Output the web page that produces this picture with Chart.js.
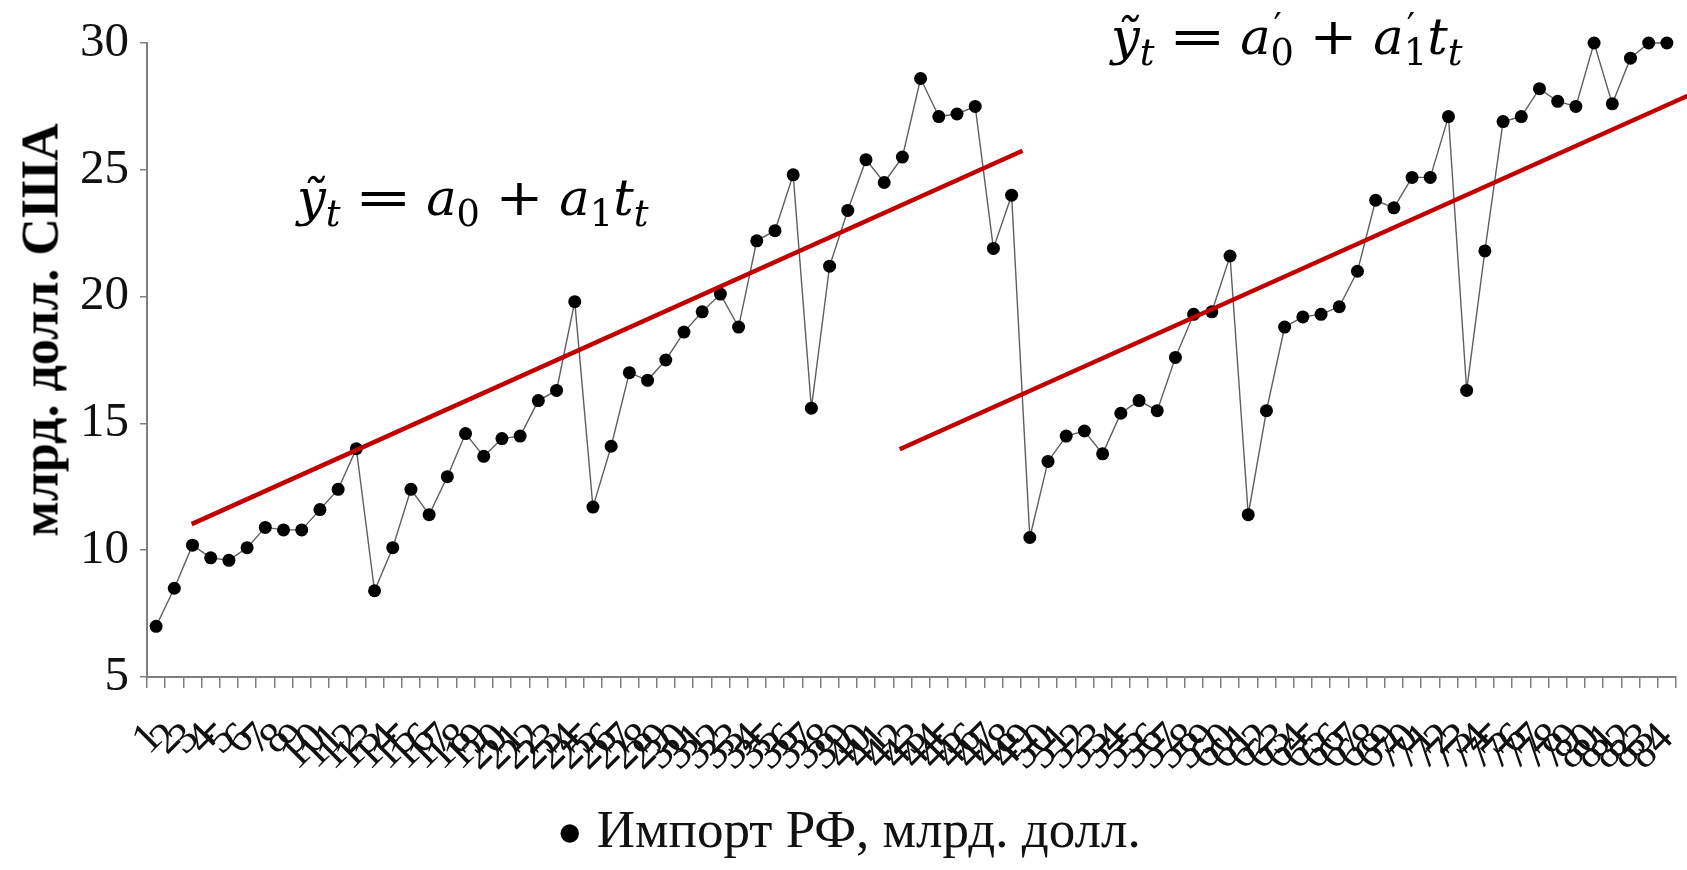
<!DOCTYPE html>
<html lang="ru">
<head>
<meta charset="UTF-8">
<title>Импорт РФ, млрд. долл.</title>
<script src="https://cdn.jsdelivr.net/npm/chart.js"></script>
<style>
  html, body { margin: 0; padding: 0; background: #fff; }
  #wrap { position: relative; width: 1687px; height: 870px; overflow: hidden; }
  #chart { display: block; }
  .eq {
    position: absolute;
    font-family: "DejaVu Serif", serif;
    font-size: 51px;
    line-height: 1;
    color: #000;
    white-space: nowrap;
  }
  .eq i { font-style: italic; }
  .eq sub { font-size: 0.72em; vertical-align: -0.3em; line-height: 0; }
  .eq .op { display: inline-block; margin: 0 0.32em; }
  .eq .eqs { transform: scaleX(1.35); margin: 0 0.42em; }
  .eq .pls { transform: scaleX(1.12); margin: 0 0.36em; }
  .eq .ss {
    position: relative;
    display: inline-block;
    font-size: 0.72em;
    line-height: 1;
    vertical-align: -0.3em;
  }
  .eq .pr { position: absolute; left: 0.08em; top: -0.72em; }
  #ytitle {
    position: absolute;
    left: 40px;
    top: 330px;
    transform: translate(-50%, -50%) rotate(-90deg);
    font: bold 52px "Liberation Serif", serif;
    color: #000;
    white-space: nowrap;
  }
</style>
</head>
<body>
<div id="wrap">
  <canvas id="chart" width="1687" height="870"></canvas>
  <div id="ytitle">млрд. долл. США</div>
  <div class="eq" id="eq1" style="left:297px; top:172px">
    <i>ỹ</i><sub><i>t</i></sub><span class="op eqs">=</span><i>a</i><sub>0</sub><span class="op pls">+</span><i>a</i><sub>1</sub><i>t</i><sub><i>t</i></sub>
  </div>
  <div class="eq" id="eq2" style="left:1111px; top:11px">
    <i>ỹ</i><sub><i>t</i></sub><span class="op eqs">=</span><i>a</i><span class="ss">0<span class="pr">′</span></span><span class="op pls">+</span><i>a</i><span class="ss">1<span class="pr">′</span></span><i>t</i><sub><i>t</i></sub>
  </div>
</div>

<script>
  // periods (months), 1..84
  const periods = [
    1, 2, 3, 4, 5, 6, 7, 8, 9, 10, 11, 12,
    13, 14, 15, 16, 17, 18, 19, 20, 21, 22, 23, 24,
    25, 26, 27, 28, 29, 30, 31, 32, 33, 34, 35, 36,
    37, 38, 39, 40, 41, 42, 43, 44, 45, 46, 47, 48,
    49, 50, 51, 52, 53, 54, 55, 56, 57, 58, 59, 60,
    61, 62, 63, 64, 65, 66, 67, 68, 69, 70, 71, 72,
    73, 74, 75, 76, 77, 78, 79, 80, 81, 82, 83, 84,
  ];

  // import of RF, bln USD
  const imports = [
    7.0, 8.5, 10.2, 9.7, 9.6, 10.1, 10.9, 10.8, 10.8, 11.6, 12.4, 14.0,
    8.4, 10.1, 12.4, 11.4, 12.9, 14.6, 13.7, 14.4, 14.5, 15.9, 16.3, 19.8,
    11.7, 14.1, 17.0, 16.7, 17.5, 18.6, 19.4, 20.1, 18.8, 22.2, 22.6, 24.8,
    15.6, 21.2, 23.4, 25.4, 24.5, 25.5, 28.6, 27.1, 27.2, 27.5, 21.9, 24.0,
    10.5, 13.5, 14.5, 14.7, 13.8, 15.4, 15.9, 15.5, 17.6, 19.3, 19.4, 21.6,
    11.4, 15.5, 18.8, 19.2, 19.3, 19.6, 21.0, 23.8, 23.5, 24.7, 24.7, 27.1,
    16.3, 21.8, 26.9, 27.1, 28.2, 27.7, 27.5, 30.0, 27.6, 29.4, 30.0, 30.0,
  ];

  // trend line ends (t, value)
  const trend1T = [2.95, 48.6];
  const trend1Y = [11.03, 25.75];
  const trend2T = [41.85, 85.15];
  const trend2Y = [13.98, 27.92];

  const yTicks = [5, 10, 15, 20, 25, 30];

  const serif = "'Liberation Serif', 'Times New Roman', serif";
  const axisGray = "#7f7f7f";

  function toPoints(ts, ys) {
    return ts.map((t, i) => ({ x: t, y: ys[i] }));
  }

  new Chart(document.getElementById("chart"), {
    type: "line",
    data: {
      labels: periods,
      datasets: [
        {
          label: "Импорт РФ, млрд. долл.",
          data: imports,
          borderColor: "#5f5f5f",
          backgroundColor: "#000",
          borderWidth: 1.4,
          pointRadius: 6.5,
          pointHoverRadius: 6.5,
          pointBackgroundColor: "#000",
          pointBorderWidth: 0,
          tension: 0,
          clip: false,
          order: 1,
        },
        {
          label: "trend1",
          data: toPoints(trend1T, trend1Y),
          xAxisID: "xt",
          borderColor: "#c00000",
          borderWidth: 4.5,
          pointRadius: 0,
          clip: false,
          order: 0,
        },
        {
          label: "trend2",
          data: toPoints(trend2T, trend2Y),
          xAxisID: "xt",
          borderColor: "#c00000",
          borderWidth: 4.5,
          pointRadius: 0,
          clip: false,
          order: 0,
        },
      ],
    },
    options: {
      responsive: false,
      animation: false,
      events: [],
      // left padding only shifts the legend centre; y axis width below keeps the plot edge at 147
      layout: { padding: { top: 43, right: 11, left: 34, bottom: 0 } },
      plugins: {
        tooltip: { enabled: false },
        legend: {
          position: "bottom",
          labels: {
            filter: (item) => item.datasetIndex === 0,
            usePointStyle: true,
            pointStyle: "circle",
            boxWidth: 1,
            boxHeight: 13,
            padding: 2,
            color: "#111",
            font: { family: serif, size: 53 },
          },
        },
      },
      scales: {
        x: {
          type: "category",
          offset: true,
          grid: {
            offset: true,
            drawOnChartArea: false,
            tickLength: 11,
            color: axisGray,
            lineWidth: 1.5,
          },
          border: { color: axisGray, width: 2 },
          ticks: {
            autoSkip: false,
            maxRotation: 45,
            minRotation: 45,
            padding: 25,
            color: "#111",
            font: { family: serif, size: 44 },
          },
          afterFit: (s) => {
            s.height = 128;
            s.paddingLeft = 0;
            s.paddingRight = 0;
          },
        },
        xt: { type: "linear", display: false, min: 0.5, max: 84.5 },
        y: {
          min: 5,
          max: 30,
          afterBuildTicks: (s) => {
            s.ticks = yTicks.map((v) => ({ value: v }));
          },
          grid: {
            drawOnChartArea: false,
            tickLength: 7,
            color: axisGray,
            lineWidth: 1.5,
          },
          border: { color: axisGray, width: 2 },
          ticks: {
            padding: 11,
            color: "#111",
            font: { family: serif, size: 49 },
          },
          afterFit: (s) => {
            s.width = 113;
          },
        },
      },
    },
  });
</script>
</body>
</html>
